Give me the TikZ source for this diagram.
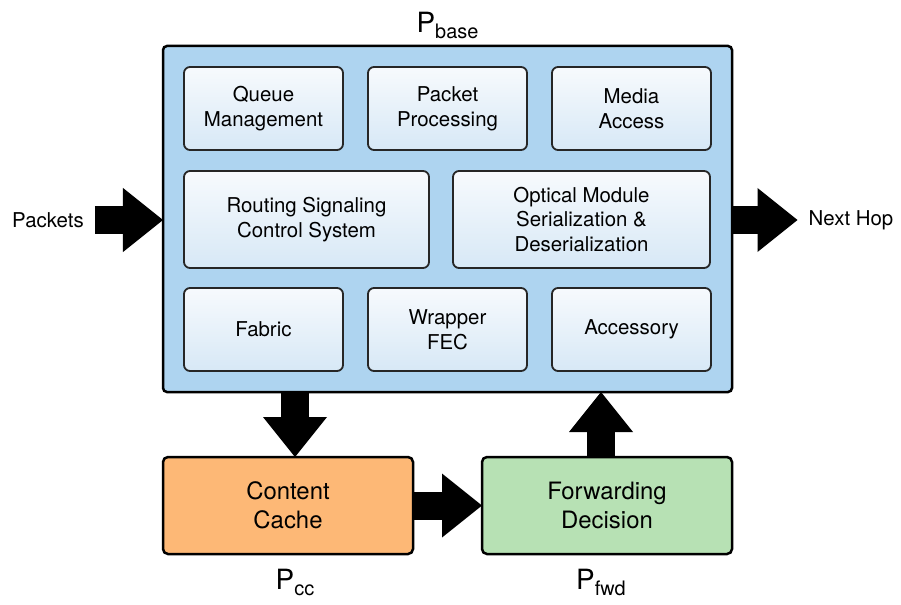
\documentclass[tikz,border=0pt]{standalone}
\usepackage{fontspec}
\setmainfont{TeX Gyre Heros}
\usetikzlibrary{arrows.meta, positioning, fit, backgrounds}

\definecolor{baseblue}{HTML}{AED4F0}
\definecolor{intop}{HTML}{F7FAFD}
\definecolor{inbot}{HTML}{D7E8F6}
\definecolor{ccorange}{HTML}{FDB876}
\definecolor{fwdgreen}{HTML}{B7E1B4}
\newcommand{\plabel}[1]{\fontsize{28}{28}\selectfont P\raisebox{-6bp}{\fontsize{20}{20}\selectfont #1}}

\begin{document}
\begin{tikzpicture}[
  x=1bp, y=-1bp,
  inbox/.style={draw=black!85,line width=1.8bp,rounded corners=6bp,top color=intop,bottom color=inbot,
                minimum width=159bp,minimum height=83bp,inner sep=0pt,outer sep=0pt,align=center,
                font=\fontsize{20.5}{25}\selectfont},
  basebox/.style={draw,line width=2.5bp,rounded corners=4bp,fill=baseblue,outer sep=0pt},
  outbox/.style={draw,line width=2.5bp,rounded corners=5bp,minimum width=250bp,minimum height=97bp,
                 outer sep=0pt,align=center,font=\fontsize{24}{29}\selectfont},
  txt/.style={font=\fontsize{20.5}{24}\selectfont,inner sep=0pt},
  plab/.style={inner sep=0pt},
  blockarrow/.style={line width=28bp,draw=black,-{Triangle[length=40bp,width=64bp,line width=0pt]}},
]
\useasboundingbox (0,0) rectangle (901,605);

% inner blocks
\node[inbox] (queue) at (263.5,108.5) {Queue\\Management};
\node[inbox, right=25bp of queue]  (packet) {Packet\\Processing};
\node[inbox, right=25bp of packet] (media)  {Media\\Access};

\node[inbox, minimum width=245bp, minimum height=97bp, below=21bp of queue.south west, anchor=north west] (routing) {Routing Signaling\\Control System};
\node[inbox, minimum width=257bp, minimum height=97bp, right=24bp of routing] (optical) {Optical Module\\Serialization \&\\Deserialization};

\node[inbox, below=20bp of routing.south west, anchor=north west] (fabric) {Fabric};
\node[inbox, right=25bp of fabric]  (wrapper)   {Wrapper\\FEC};
\node[inbox, right=25bp of wrapper] (accessory) {Accessory};

% P_base frame
\begin{scope}[on background layer]
  \node[basebox, fit=(queue)(media)(fabric)(accessory), inner sep=21bp] (base) {};
\end{scope}
\node[plab, above=7bp of base] (pbase) {\plabel{base}};

% bottom blocks
\node[outbox, fill=ccorange, below=65bp of base.south west, anchor=north west] (cc)  {Content\\Cache};
\node[outbox, fill=fwdgreen, below=65bp of base.south east, anchor=north east] (fwd) {Forwarding\\Decision};
\coordinate (dn) at ([xshift=7bp]cc.north);
\coordinate (up) at ([xshift=-6bp]fwd.north);
\node[plab, below=15bp of cc.south -| dn]  (pcc)  {\plabel{cc}};
\node[plab, below=15bp of fwd.south -| up] (pfwd) {\plabel{fwd}};

% in / out
\node[txt] (packets) at (48,220) {Packets};
\node[txt] (nexthop) at (851,220) {Next Hop};

% arrows
\draw[blockarrow] ([xshift=11bp]packets.east) -- (packets.east -| base.west);
\draw[blockarrow] (base.east |- nexthop) -- ([xshift=-11bp]nexthop.west);
\draw[blockarrow] (base.south -| dn) -- (dn);
\draw[blockarrow] (cc.east) -- (fwd.west);
\draw[blockarrow] (up) -- (base.south -| up);

\end{tikzpicture}
\end{document}
